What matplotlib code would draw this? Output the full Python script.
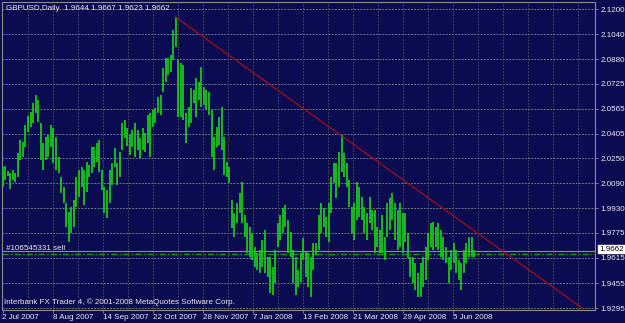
import matplotlib
matplotlib.use('Agg')
import matplotlib.pyplot as plt
import numpy as np

# ---- data ----
highs = [2.0197, 2.0202, 2.0166, 2.0157, 2.0176, 2.0157, 2.0284, 2.0367, 2.0355, 2.0463,
         2.0520, 2.0546, 2.0603, 2.0654, 2.0622, 2.0476, 2.0348, 2.0386, 2.0399, 2.0463,
         2.0444, 2.0386, 2.0259, 2.0131, 2.0068, 1.9966, 1.9909, 1.9940, 1.9985, 2.0131,
         2.0176, 2.0195, 2.0176, 2.0227, 2.0208, 2.0323, 2.0323, 2.0348, 2.0367, 2.0176,
         2.0068, 2.0049, 2.0176, 2.0221, 2.0316, 2.0221, 2.0291, 2.0476, 2.0495, 2.0444,
         2.0400, 2.0431, 2.0476, 2.0431, 2.0380, 2.0444, 2.0412, 2.0527, 2.0539, 2.0558,
         2.0571, 2.0641, 2.0654, 2.0826, 2.0890, 2.0890, 2.0909, 2.1068, 2.1149, 2.0877,
         2.0858, 2.0845, 2.0539, 2.0577, 2.0698, 2.0686, 2.0762, 2.0737, 2.0832, 2.0705,
         2.0686, 2.0673, 2.0558, 2.0386, 2.0450, 2.0514, 2.0577, 2.0386, 2.0227, 2.0195,
         1.9985, 1.9902, 1.9966, 2.0030, 2.0100, 1.9889, 1.9839, 1.9813, 1.9775, 1.9686,
         1.9648, 1.9667, 1.9730, 1.9794, 1.9622, 1.9622, 1.9558, 1.9667, 1.9839, 1.9889,
         1.9934, 1.9953, 1.9858, 1.9781, 1.9667, 1.9622, 1.9539, 1.9648, 1.9743, 1.9654,
         1.9648, 1.9622, 1.9711, 1.9711, 1.9889, 1.9966, 1.9934, 1.9877, 1.9966, 2.0131,
         2.0221, 2.0221, 2.0291, 2.0399, 2.0284, 2.0221, 2.0112, 1.9940, 1.9966, 2.0100,
         2.0068, 2.0004, 1.9940, 1.9902, 2.0004, 1.9921, 1.9921, 1.9813, 1.9794, 1.9889,
         1.9749, 1.9966, 1.9998, 2.0030, 1.9966, 1.9921, 1.9966, 1.9902, 1.9902, 1.9775,
         1.9622, 1.9622, 1.9584, 1.9520, 1.9584, 1.9622, 1.9686, 1.9775, 1.9839, 1.9845,
         1.9813, 1.9839, 1.9794, 1.9749, 1.9686, 1.9622, 1.9667, 1.9711, 1.9667, 1.9603,
         1.9584, 1.9667, 1.9711, 1.9749, 1.9749, 1.9667]
lows = [2.0070, 2.0112, 2.0134, 2.0055, 2.0112, 2.0100, 2.0132, 2.0240, 2.0259, 2.0323,
        2.0418, 2.0450, 2.0476, 2.0539, 2.0482, 2.0240, 2.0176, 2.0240, 2.0259, 2.0323,
        2.0221, 2.0176, 2.0157, 2.0030, 1.9966, 1.9813, 1.9718, 1.9775, 1.9813, 1.9940,
        2.0004, 2.0068, 1.9953, 2.0036, 2.0131, 2.0157, 2.0195, 2.0227, 2.0163, 2.0049,
        1.9902, 1.9870, 1.9966, 2.0081, 2.0195, 2.0081, 2.0131, 2.0304, 2.0380, 2.0330,
        2.0272, 2.0323, 2.0259, 2.0300, 2.0253, 2.0304, 2.0291, 2.0348, 2.0259, 2.0450,
        2.0476, 2.0539, 2.0526, 2.0673, 2.0737, 2.0781, 2.0800, 2.0877, 2.0960, 2.0514,
        2.0514, 2.0495, 2.0348, 2.0450, 2.0476, 2.0603, 2.0514, 2.0622, 2.0577, 2.0590,
        2.0558, 2.0526, 2.0259, 2.0176, 2.0323, 2.0335, 2.0304, 2.0144, 2.0131, 2.0093,
        1.9807, 1.9749, 1.9838, 1.9902, 1.9839, 1.9749, 1.9648, 1.9622, 1.9603, 1.9558,
        1.9539, 1.9520, 1.9558, 1.9520, 1.9495, 1.9393, 1.9380, 1.9456, 1.9686, 1.9730,
        1.9775, 1.9813, 1.9648, 1.9622, 1.9456, 1.9380, 1.9431, 1.9463, 1.9603, 1.9495,
        1.9431, 1.9367, 1.9539, 1.9635, 1.9667, 1.9775, 1.9813, 1.9749, 1.9717, 1.9902,
        2.0093, 1.9998, 2.0068, 2.0163, 2.0131, 2.0068, 1.9940, 1.9775, 1.9730, 1.9858,
        1.9877, 1.9858, 1.9775, 1.9730, 1.9839, 1.9794, 1.9648, 1.9686, 1.9648, 1.9648,
        1.9603, 1.9749, 1.9794, 1.9858, 1.9730, 1.9667, 1.9686, 1.9648, 1.9717, 1.9616,
        1.9495, 1.9456, 1.9412, 1.9367, 1.9367, 1.9431, 1.9475, 1.9603, 1.9686, 1.9667,
        1.9686, 1.9667, 1.9622, 1.9603, 1.9584, 1.9456, 1.9539, 1.9584, 1.9520, 1.9475,
        1.9412, 1.9520, 1.9584, 1.9622, 1.9622, 1.9623]
date_labels = ['2 Jul 2007', '8 Aug 2007', '14 Sep 2007', '22 Oct 2007', '28 Nov 2007',
               '7 Jan 2008', '13 Feb 2008', '21 Mar 2008', '29 Apr 2008', '5 Jun 2008']
price_ticks = [2.1200, 2.1040, 2.0880, 2.0725, 2.0565, 2.0405, 2.0250, 2.0090,
               1.9930, 1.9775, 1.9615, 1.9455, 1.9295]
trend_bars = [68, 228]
trend_prices = [2.1149, 1.9289]
bid_price = 1.9662
order_price = 1.9639
order_label = '#106545331 sell'
header = 'GBPUSD,Daily  1.9644 1.9667 1.9623 1.9662'
footer = 'Interbank FX Trader 4, \u00a9 2001-2008 MetaQuotes Software Corp.'

# ---- style ----
W, H = 625, 323
BG = '#0b0b52'
FG = '#ececec'
FONT = 'Liberation Sans'
FS = 5.8
plt.rcParams['font.family'] = [FONT, 'DejaVu Sans']

fig = plt.figure(figsize=(W / 100, H / 100), dpi=100, facecolor=BG)
L, R, T, B = 2, 595, 2, 310
ax = fig.add_axes([L / W, 1 - B / H, (R - L) / W, (B - T) / H])
ax.set_facecolor(BG)

PX = 2.549          # pixels per bar
x0 = 2.5            # pixel of first bar
xmin, xmax = (L - x0) / PX, (R - x0) / PX
ax.set_xlim(xmin, xmax)
ax.set_ylim(1.9283, 2.1246)

# grid
ax.hlines(price_ticks, xmin, xmax, colors='#8a8a8a', linewidth=0.6,
          linestyles=(0, (2.2, 1.6)), zorder=0)
vgrid = np.arange(1, 24) * 25 / PX
ax.vlines(vgrid[vgrid < xmax], 1.9283, 2.1246, colors='#505058', linewidth=0.6,
          linestyles=(0, (2.2, 1.6)), zorder=0)

# bars
xb = np.arange(len(highs))
ax.vlines(xb, lows, highs, colors='#18c818', linewidth=1.3, zorder=3)

# trend line
ax.plot(trend_bars, trend_prices, color='#b01212', linewidth=0.8, zorder=4)

# bid line and order line
ax.axhline(bid_price, color='#8c8c8c', linewidth=0.8, zorder=2)
ax.axhline(order_price, color='#129a12', linewidth=1.0,
           linestyle=(0, (4.5, 1.5, 1.2, 1.5)), zorder=2)
ax.annotate(order_label, xy=(4 / (R - L), order_price),
            xycoords=('axes fraction', 'data'), xytext=(0, 1.2),
            textcoords='offset points', ha='left', va='bottom',
            fontsize=FS, color=FG)

# axes styling
for s in ax.spines.values():
    s.set_color('#8c8c8c')
    s.set_linewidth(0.8)
ax.yaxis.tick_right()
ax.set_yticks(price_ticks)
ax.set_yticklabels([f'{p:.4f}' for p in price_ticks])
ax.set_xticks(np.arange(len(date_labels)) * 50 / PX)
ax.set_xticklabels(date_labels)
for lab in ax.get_xticklabels():
    lab.set_ha('left')
ax.tick_params(axis='both', direction='out', length=2.2, width=0.6,
               color='#8c8c8c', labelcolor=FG, labelsize=FS)
ax.tick_params(axis='y', pad=1.5)
ax.tick_params(axis='x', pad=0.8)

# bid price label
ax.annotate(f'{bid_price:.4f}', xy=(1, bid_price), xycoords=('axes fraction', 'data'),
            xytext=(3.0, 1.0), textcoords='offset points', ha='left', va='center',
            fontsize=FS, color='black',
            bbox=dict(boxstyle='square,pad=0.1', fc='white', ec='white'),
            annotation_clip=False, zorder=10)

# header & footer
fig.text(6 / W, 1 - 8 / H, header, fontsize=FS, color=FG, ha='left', va='center')
fig.text(4 / W, 1 - 302 / H, footer, fontsize=FS, color=FG, ha='left', va='center')

fig.savefig('out.png', dpi=100, facecolor=BG)
